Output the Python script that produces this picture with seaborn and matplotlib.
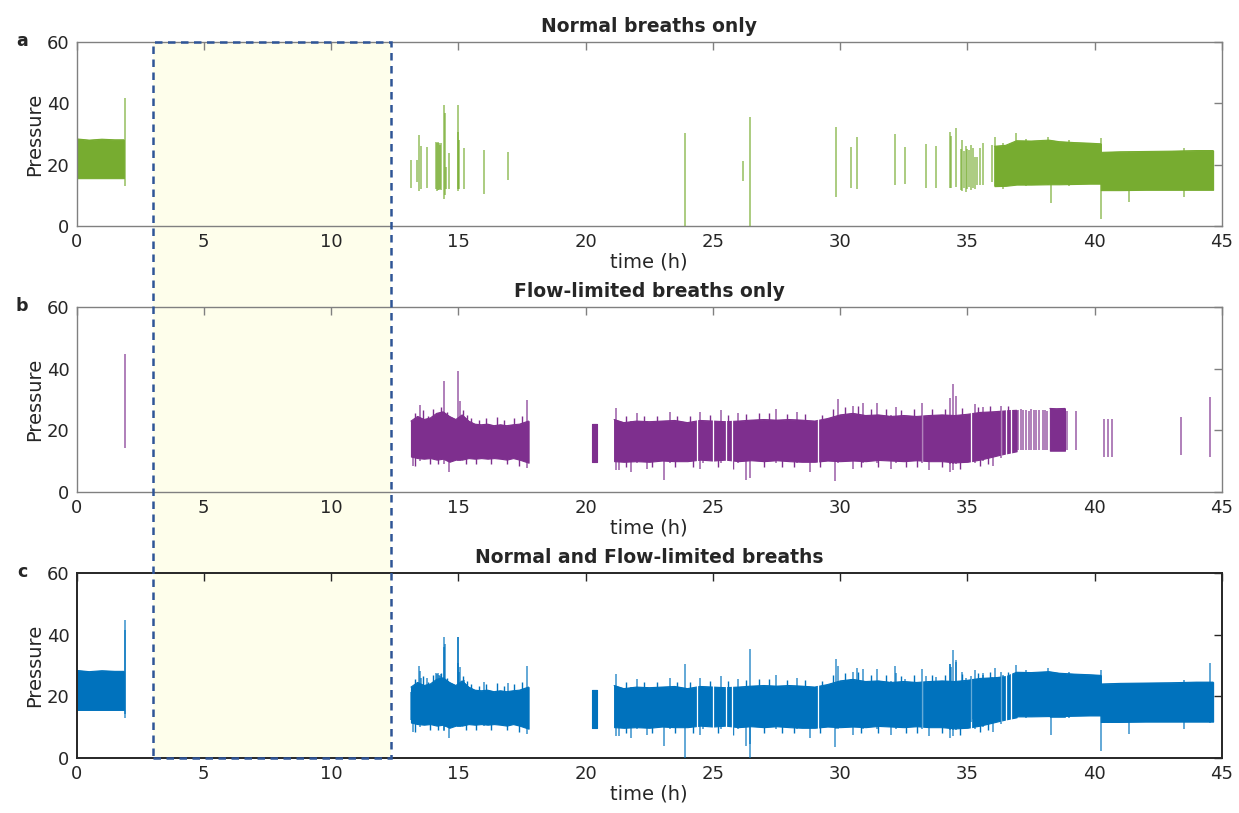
import numpy as np
import matplotlib
matplotlib.use("Agg")
import matplotlib.pyplot as plt
from matplotlib.patches import Rectangle
from matplotlib.transforms import blended_transform_factory
import seaborn as sns

# ---------------- data (hours, pressure) ----------------
# Normal breaths: continuous blocks, envelope knots
normal_block_t = [[0.00, 0.50, 1.00, 1.50, 1.86],
                  [36.06, 36.50, 36.93, 37.50, 38.20, 38.60, 39.20, 39.80, 40.24],
                  [40.24, 41.00, 42.00, 43.00, 44.00, 44.65]]
normal_block_hi = [[28.4, 28.0, 28.3, 28.1, 28.1],
                   [26.0, 26.3, 27.8, 27.7, 28.0, 27.5, 27.2, 27.0, 26.8],
                   [24.0, 24.2, 24.3, 24.4, 24.6, 24.6]]
normal_block_lo = [[15.6, 15.6, 15.6, 15.6, 15.6],
                   [13.0, 13.1, 13.5, 13.5, 13.6, 13.6, 13.7, 13.8, 13.8],
                   [11.7, 11.7, 11.8, 11.8, 11.8, 11.8]]
# Normal breaths: isolated breaths / spikes
normal_spike_t = [1.90, 13.16, 13.36, 13.47, 13.52, 13.75, 14.13, 14.17, 14.20,
                  14.24, 14.28, 14.32, 14.42, 14.47, 14.52, 14.62, 14.97, 15.00,
                  15.04, 15.24, 15.99, 16.97, 23.92, 26.18, 26.46, 29.85, 30.42,
                  30.66, 32.16, 32.56, 33.38, 33.76, 34.32, 34.36, 34.54, 34.73,
                  34.80, 34.87, 34.95, 35.00, 35.07, 35.15, 35.22, 35.30, 35.36,
                  35.51, 35.63, 35.95, 36.10, 36.91, 38.15, 38.27, 40.26, 41.34,
                  43.50, 36.40, 37.30, 39.00]
normal_spike_lo = [12.9, 12.4, 14.3, 11.5, 12.0, 12.4, 12.0, 11.5, 11.8,
                   11.6, 12.0, 11.8, 8.8, 10.0, 12.0, 12.0, 11.5, 12.0,
                   12.0, 12.0, 10.5, 15.0, 0.0, 14.7, 0.0, 9.4, 12.3,
                   12.0, 13.4, 13.7, 12.3, 12.3, 12.5, 12.5, 12.8, 11.8,
                   11.5, 12.5, 11.2, 12.0, 12.8, 11.6, 12.5, 12.0, 13.5,
                   13.4, 13.5, 14.2, 13.0, 13.5, 13.5, 7.4, 2.3, 7.9,
                   9.4, 12.2, 12.9, 13.0]
normal_spike_hi = [41.6, 21.5, 21.5, 29.7, 26.0, 25.8, 27.5, 27.2, 27.5,
                   27.0, 26.5, 27.2, 39.4, 37.0, 19.3, 23.8, 39.4, 30.7,
                   28.0, 25.4, 24.8, 24.2, 30.4, 21.2, 35.4, 32.2, 25.7,
                   29.1, 30.0, 25.7, 26.6, 26.2, 30.5, 29.5, 31.8, 25.0,
                   28.0, 24.5, 26.0, 25.0, 24.8, 26.5, 25.5, 22.4, 22.4,
                   25.3, 27.0, 26.4, 29.1, 30.2, 29.1, 27.0, 28.6, 24.0,
                   25.3, 27.0, 28.5, 28.0]

# Flow-limited breaths: continuous blocks, envelope knots
flow_block_t = [[13.14, 13.40, 13.65, 13.90, 14.15, 14.40, 14.65, 14.90, 15.15,
                 15.40, 15.65, 15.90, 16.15, 16.40, 16.65, 16.90, 17.15, 17.40, 17.76],
                [20.27, 20.46],
                [21.12, 21.50, 22.00, 22.50, 23.00, 23.50, 24.00, 24.50, 25.00,
                 25.50, 26.00, 26.50, 27.00, 27.50, 28.00, 28.50, 29.00, 29.50,
                 30.00, 30.50, 31.00, 31.50, 32.00, 32.50, 33.00, 33.50, 34.00,
                 34.50, 35.00, 35.50, 36.00, 36.50, 36.93],
                [38.24, 38.50, 38.83]]
flow_block_hi = [[23.0, 24.5, 23.5, 24.0, 25.5, 26.0, 24.5, 23.5, 25.0,
                  23.0, 22.0, 21.8, 22.0, 21.5, 21.8, 21.5, 21.8, 22.0, 23.0],
                 [22.0, 22.0],
                 [23.5, 22.5, 23.0, 22.8, 23.0, 23.2, 22.5, 23.2, 23.0,
                  22.8, 23.0, 23.3, 23.5, 23.3, 23.5, 23.3, 23.0, 23.8,
                  25.0, 25.5, 24.8, 25.0, 24.5, 24.8, 24.5, 24.8, 25.0,
                  24.8, 25.2, 25.8, 26.0, 26.3, 26.5],
                 [27.1, 27.0, 27.1]]
flow_block_lo = [[11.5, 11.0, 10.8, 11.0, 10.5, 10.8, 9.8, 10.5, 10.5,
                  11.0, 10.8, 11.0, 10.8, 11.0, 10.8, 10.5, 11.0, 10.5, 9.5],
                 [9.8, 9.8],
                 [10.0, 9.8, 10.0, 9.8, 10.2, 10.0, 10.0, 10.5, 10.2,
                  10.5, 10.0, 10.3, 10.0, 10.3, 10.0, 9.8, 9.8, 10.2,
                  10.0, 10.2, 10.0, 10.4, 10.2, 10.0, 10.3, 10.0, 10.0,
                  9.6, 9.8, 10.5, 11.5, 12.5, 13.2],
                 [13.4, 13.4, 13.4]]
# Flow-limited breaths: isolated breaths / spikes
flow_spike_t = [1.90, 13.20, 13.50, 14.45, 14.65, 14.99, 15.05, 17.70,
                21.20, 21.30, 21.80, 22.00, 22.40, 23.08, 23.30, 24.50, 24.60,
                25.30, 26.00, 26.30, 26.45, 27.46, 28.30, 28.80, 29.81, 29.90,
                30.50, 30.90, 31.43, 32.00, 32.20, 33.20, 33.50, 34.30, 34.32,
                34.42, 34.45, 34.55, 35.30, 35.60, 36.00, 36.30,
                37.00, 37.10, 37.20, 37.30, 37.40, 37.50, 37.60, 37.70, 37.80,
                37.95, 38.05, 38.12, 38.90, 39.26, 40.36, 40.53, 40.67, 43.40,
                44.52]
flow_spike_lo = [14.2, 8.5, 10.0, 9.0, 6.6, 10.0, 10.0, 7.7,
                 7.0, 7.0, 6.5, 9.5, 7.5, 3.9, 9.5, 7.5, 9.5,
                 9.5, 9.5, 3.9, 4.5, 9.5, 9.5, 6.5, 3.7, 9.5,
                 7.5, 9.5, 9.5, 7.5, 9.5, 9.5, 7.0, 6.5, 9.0,
                 9.0, 7.0, 9.0, 9.5, 10.0, 8.5, 11.0,
                 13.6, 13.6, 13.6, 13.6, 13.6, 13.6, 13.6, 13.6, 13.6,
                 13.6, 13.6, 13.6, 13.6, 13.6, 11.5, 11.5, 11.5, 12.1,
                 11.5]
flow_spike_hi = [44.8, 23.0, 28.2, 36.1, 24.0, 39.4, 29.6, 29.8,
                 27.1, 23.0, 23.0, 25.5, 23.0, 23.0, 25.8, 26.0, 23.0,
                 26.5, 25.7, 23.0, 23.0, 26.8, 26.0, 23.0, 24.0, 30.0,
                 28.0, 29.0, 28.8, 25.0, 27.5, 29.0, 25.0, 25.0, 30.4,
                 34.9, 25.0, 31.0, 28.5, 27.5, 26.0, 28.0,
                 26.5, 26.8, 26.5, 26.6, 26.4, 26.8, 26.5, 26.7, 26.5,
                 26.6, 26.5, 26.4, 26.4, 26.4, 23.6, 23.6, 23.6, 24.4,
                 30.7]
# Flow-limited breaths: breath-to-breath peaks above the block envelope
flow_peak_t = [13.30, 13.60, 13.80, 14.00, 14.30, 14.55, 15.20, 15.35, 15.50,
               15.80, 16.10, 16.50, 16.80, 17.20, 17.50,
               21.60, 22.30, 22.80, 23.60, 24.10, 24.90, 25.60, 26.30, 26.80,
               27.20, 27.90, 28.60, 29.30, 29.70, 30.20, 30.70, 31.20, 31.80,
               32.40, 32.90, 33.60, 34.10, 34.80, 35.40, 35.90, 36.60]
flow_peak_hi = [25.5, 26.5, 24.5, 26.8, 27.5, 26.0, 26.5, 25.0, 24.0,
                23.5, 24.0, 24.2, 23.5, 24.0, 24.5,
                24.8, 24.5, 24.5, 24.6, 24.8, 25.0, 25.0, 25.2, 25.5,
                25.5, 25.3, 25.4, 25.0, 27.0, 27.5, 27.8, 27.0, 27.0,
                26.5, 27.0, 26.8, 27.0, 27.2, 27.5, 28.0, 28.0]
# Flow-limited breaths: breath-to-breath troughs below the block envelope
flow_trough_t = [13.30, 13.90, 14.20, 15.30, 15.70, 16.30, 16.90, 17.40,
                 21.60, 22.60, 23.50, 24.20, 25.20, 25.80, 27.00, 27.70, 28.20,
                 29.20, 30.80, 31.50, 32.60, 33.00, 34.00, 34.70, 35.50, 35.80]
flow_trough_lo = [8.5, 9.0, 9.0, 9.0, 9.2, 9.0, 9.0, 8.5,
                  8.0, 8.0, 8.2, 8.0, 8.0, 7.5, 8.0, 8.2, 8.0,
                  8.0, 8.2, 8.0, 8.0, 8.0, 8.0, 7.5, 8.5, 9.0]
# Times without flow-limited breaths inside the continuous block
flow_gap_t = [24.37, 25.02, 25.53, 25.76, 29.14, 33.20, 35.15, 36.30, 36.50, 36.70]

# ---------------- styling ----------------
green = "#77AC30"
purple = "#7E2F8E"
blue = "#0072BD"

sns.set_theme(style="white")
plt.rcParams["font.family"] = ["DejaVu Sans"]

W, H = 1239, 813
fig = plt.figure(figsize=(W / 100, H / 100), dpi=100)
fig.patch.set_facecolor("white")


def axes_px(left, top, right, bottom):
    return fig.add_axes([left / W, 1 - bottom / H, (right - left) / W, (bottom - top) / H])


ax_a = axes_px(76.5, 42, 1222, 226)
ax_b = axes_px(76.5, 307, 1222, 492)
ax_c = axes_px(76.5, 573, 1222, 758)


def draw_blocks(ax, bt, bhi, blo, color):
    for t, hi, lo in zip(bt, bhi, blo):
        ax.fill_between(t, lo, hi, color=color, lw=0.8, edgecolor=color, zorder=2)
        sns.lineplot(x=t, y=hi, ax=ax, color=color, lw=0.8, zorder=2)


def draw_spikes(ax, st, slo, shi, color):
    ax.vlines(st, slo, shi, color=color, lw=1.1, alpha=0.78, zorder=4)


def draw_flow(ax, color):
    draw_blocks(ax, flow_block_t, flow_block_hi, flow_block_lo, color)
    ax.vlines(flow_peak_t, 16, flow_peak_hi, color=color, lw=1.0, zorder=2)
    ax.vlines(flow_trough_t, flow_trough_lo, 16, color=color, lw=1.0, zorder=2)
    ax.vlines(flow_gap_t, 5, 40, color="white", lw=0.9, zorder=3)
    draw_spikes(ax, flow_spike_t, flow_spike_lo, flow_spike_hi, color)


def draw_normal(ax, color):
    draw_blocks(ax, normal_block_t, normal_block_hi, normal_block_lo, color)
    draw_spikes(ax, normal_spike_t, normal_spike_lo, normal_spike_hi, color)


draw_normal(ax_a, green)
draw_flow(ax_b, purple)
draw_flow(ax_c, blue)
draw_normal(ax_c, blue)

titles = ["Normal breaths only", "Flow-limited breaths only", "Normal and Flow-limited breaths"]
letters = ["a", "b", "c"]
for ax, title, letter, edge, elw in zip([ax_a, ax_b, ax_c], titles, letters,
                                        ["#808080", "#808080", "#262626"], [1.0, 1.0, 1.4]):
    ax.set_facecolor("none")
    ax.set_xlim(0, 45)
    ax.set_ylim(0, 60)
    ax.set_xticks(range(0, 46, 5))
    ax.set_yticks([0, 20, 40, 60])
    ax.tick_params(direction="in", top=True, right=True, length=6, width=1.0,
                   color=edge, labelcolor="#262626", labelsize=13, pad=5)
    for sp in ax.spines.values():
        sp.set_visible(True)
        sp.set_color(edge)
        sp.set_linewidth(elw)
    ax.set_xlabel("time (h)", fontsize=14, color="#262626", labelpad=1)
    ax.set_ylabel("Pressure", fontsize=14, color="#262626", labelpad=2)
    ax.set_title(title, fontsize=13.5, fontweight="bold", pad=7)
    pos = ax.get_position()
    fig.text(22 / W, pos.y1 + 1 / H, letter, fontsize=12.5, fontweight="bold",
             ha="center", va="center")

# Highlighted interval spanning all three panels
x0, x1 = 3.0, 12.35
trans = blended_transform_factory(ax_a.transData, fig.transFigure)
y_top = ax_a.get_position().y1
y_bot = ax_c.get_position().y0
fig.add_artist(Rectangle((x0, y_bot), x1 - x0, y_top - y_bot, transform=trans,
                         facecolor="#FEFEEB", edgecolor="none", zorder=-1))
fig.add_artist(Rectangle((x0, y_bot), x1 - x0, y_top - y_bot, transform=trans,
                         facecolor="none", edgecolor="#2F5597", lw=1.8,
                         linestyle=(0, (3.0, 2.2)), zorder=10))

fig.savefig("out.png", dpi=100)
